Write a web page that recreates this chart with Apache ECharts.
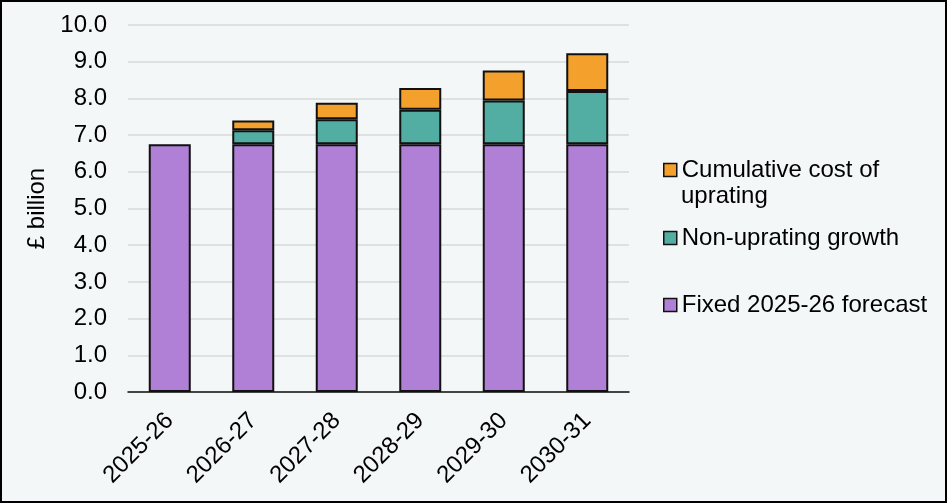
<!DOCTYPE html>
<html>
<head>
<meta charset="utf-8">
<script src="https://cdn.jsdelivr.net/npm/echarts@6/dist/echarts.min.js"></script>
<style>
html,body{margin:0;padding:0;background:#f4f7f7;}
#wrap{position:relative;width:947px;height:503px;}
#chart{position:absolute;left:0;top:0;width:947px;height:503px;}
#frame{position:absolute;left:0;top:0;width:947px;height:503px;box-sizing:border-box;border:2px solid #000;pointer-events:none;}
</style>
</head>
<body>
<div id="wrap"><div id="chart"></div><div id="frame"></div></div>
<script>
const categories = ['2025-26', '2026-27', '2027-28', '2028-29', '2029-30', '2030-31'];
const fixedForecast = [6.75, 6.75, 6.75, 6.75, 6.75, 6.75];
const nonUpratingGrowth = [null, 0.38, 0.68, 0.94, 1.19, 1.45];
const upratingCost = [null, 0.27, 0.45, 0.59, 0.82, 1.03];
const yTicks = [0, 1, 2, 3, 4, 5, 6, 7, 8, 9, 10];

const FONT = '"Liberation Sans", Arial, Helvetica, sans-serif';
const FS = 24;
const chart = echarts.init(document.getElementById('chart'), null, {renderer: 'canvas'});
const barBorder = {borderColor: '#111', borderWidth: 2};
const legendCommon = {
  orient: 'vertical', left: 663, padding: 0, icon: 'rect', itemWidth: 13, itemHeight: 13,
  itemStyle: {borderColor: '#111', borderWidth: 1.5},
  textStyle: {fontFamily: FONT, fontSize: FS, color: '#000', lineHeight: 26},
  selectedMode: false
};
chart.setOption({
  backgroundColor: '#f4f7f7',
  animation: false,
  textStyle: {fontFamily: FONT},
  grid: {left: 128, right: 318, top: 25, bottom: 111, containLabel: false},
  legend: [
    Object.assign({}, legendCommon, {top: 157, data: ['Cumulative cost of uprating'], formatter: () => 'Cumulative cost of'}),
    Object.assign({}, legendCommon, {top: 225, data: ['Non-uprating growth']}),
    Object.assign({}, legendCommon, {top: 292, data: ['Fixed 2025-26 forecast']})
  ],
  graphic: [{
    type: 'text', left: 681, top: 184,
    style: {text: 'uprating', font: FS + 'px ' + FONT, fill: '#000'}
  }],
  xAxis: {
    type: 'category', data: categories,
    axisLine: {lineStyle: {color: '#111', width: 1.5}},
    axisTick: {show: false},
    axisLabel: {rotate: 45, fontSize: FS, color: '#000', margin: 25, fontFamily: FONT}
  },
  yAxis: {
    type: 'value', min: yTicks[0], max: yTicks[yTicks.length - 1], interval: 1,
    name: '£ billion', nameLocation: 'middle', nameGap: 70, nameRotate: 90,
    nameTextStyle: {fontSize: FS, color: '#000', fontFamily: FONT},
    axisLine: {show: false}, axisTick: {show: false},
    axisLabel: {fontSize: FS, color: '#000', margin: 21, fontFamily: FONT, formatter: v => v.toFixed(1)},
    splitLine: {lineStyle: {color: '#d9d9d9', width: 1.5}}
  },
  series: [
    {name: 'Fixed 2025-26 forecast', type: 'bar', stack: 'total', barWidth: 42, data: fixedForecast,
     itemStyle: Object.assign({color: '#b07fd6'}, barBorder)},
    {name: 'Non-uprating growth', type: 'bar', stack: 'total', barWidth: 42, data: nonUpratingGrowth,
     itemStyle: Object.assign({color: '#52ada3'}, barBorder)},
    {name: 'Cumulative cost of uprating', type: 'bar', stack: 'total', barWidth: 42, data: upratingCost,
     itemStyle: Object.assign({color: '#f4a02d'}, barBorder)}
  ]
});
</script>
</body>
</html>
